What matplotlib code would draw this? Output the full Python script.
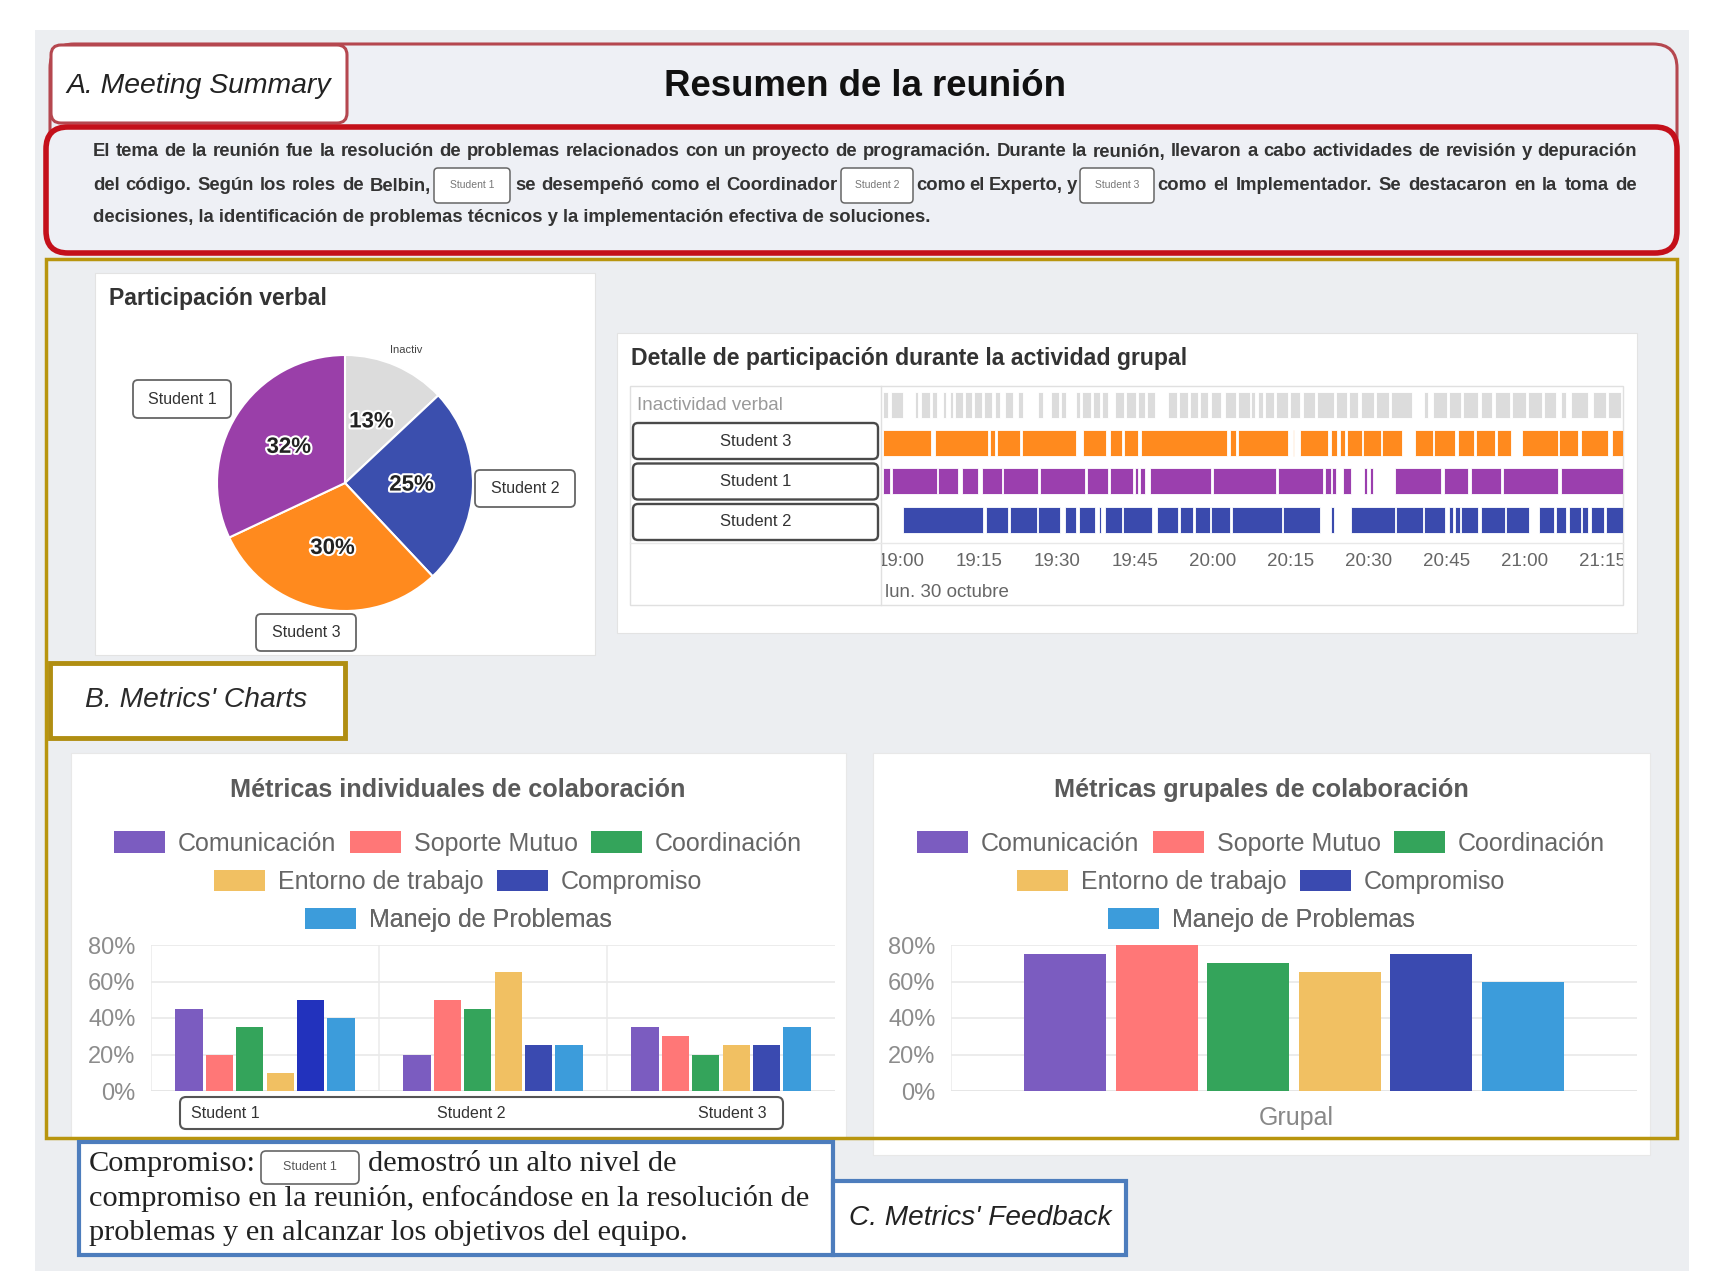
import numpy as np
import matplotlib.pyplot as plt
import matplotlib.patheffects as pe
from matplotlib.patches import FancyBboxPatch, Patch

plt.rcParams['font.family'] = ['Liberation Sans', 'DejaVu Sans']

W, H = 1711, 1271

# ---------------- data ----------------
pie_names = ['Inactividad verbal', 'Student 2', 'Student 3', 'Student 1']
pie_values = [13, 25, 30, 32]
pie_colors = ['#dcdcdc', '#3b4fae', '#ff8a1e', '#9a3fa9']

metrics = ['Comunicación', 'Soporte Mutuo', 'Coordinación',
           'Entorno de trabajo', 'Compromiso', 'Manejo de Problemas']
metric_colors = ['#7b5cc0', '#ff7777', '#34a45b', '#f1c062', '#3a4ab0', '#3c9cdb']
students = ['Student 1', 'Student 2', 'Student 3']
comunicacion = [45, 20, 35]
soporte = [20, 50, 30]
coordinacion = [35, 45, 20]
entorno = [10, 65, 25]
compromiso = [50, 25, 25]
manejo = [40, 25, 35]
grupal = [75, 80, 70, 65, 75, 60]
pct_ticks = [0, 20, 40, 60, 80]

# timeline, minutes since start of the recording (~19:01)
tl_rows = ['Inactividad verbal', 'Student 3', 'Student 1', 'Student 2']
tl_colors = ['#dcdcdc', '#ff8a1e', '#9b3fae', '#3a4aad']
t_start = 1.3
t_end = 142.6
tick_labels = ['19:00', '19:15', '19:30', '19:45', '20:00', '20:15', '20:30', '20:45', '21:00', '21:15']
inactive = [(0.25, 1.2), (1.7, 4.1), (6.3, 7.0), (7.6, 9.2), (9.6, 10.5), (11.8, 12.4), (13.1, 13.7),
            (14.0, 15.6), (16.0, 17.4), (17.8, 19.2), (19.6, 21.1), (21.7, 22.7), (23.7, 25.3), (26.2, 27.2),
            (30.1, 31.0), (32.6, 34.0), (34.4, 35.5), (37.4, 38.1), (38.4, 40.3), (40.6, 42.0), (42.3, 43.5),
            (44.8, 46.5), (46.9, 48.8), (49.2, 50.7), (51.0, 52.5), (55.1, 56.8), (57.2, 58.9), (59.2, 60.8),
            (61.2, 62.7), (63.4, 65.3), (66.0, 68.2), (68.6, 70.8), (71.1, 71.7), (72.4, 73.3), (73.7, 75.5),
            (75.9, 78.2), (78.6, 80.4), (81.0, 83.4), (83.8, 86.9), (87.3, 89.5), (89.9, 91.6), (92.2, 94.6),
            (95.0, 97.6), (98.0, 101.9), (104.4, 105.1), (106.1, 108.7), (109.1, 111.5), (111.9, 114.7),
            (115.3, 117.3), (118.0, 120.8), (121.2, 124.0), (124.4, 127.0), (127.4, 129.7), (130.7, 131.7),
            (132.6, 135.8), (136.8, 139.4), (139.8, 142.3)]
student3 = [(0.25, 9.4), (10.2, 20.4), (20.8, 21.7), (22.2, 26.5), (26.9, 37.4), (38.7, 43.2), (43.8, 46.1),
            (46.5, 49.2), (49.9, 66.3), (66.9, 68.2), (68.5, 78.1), (79.0, 79.3), (80.4, 85.8), (86.4, 87.5),
            (88.1, 89.1), (89.4, 92.3), (92.6, 96.0), (96.3, 100.0), (102.5, 106.0), (106.3, 110.2),
            (110.8, 114.0), (114.3, 118.0), (118.3, 121.1), (123.1, 130.0), (130.3, 134.0), (134.6, 139.8),
            (140.4, 142.6)]
student1 = [(0.25, 1.54), (1.87, 10.5), (10.8, 14.7), (15.3, 18.5), (19.2, 23.0), (23.3, 30.1), (30.4, 39.0),
            (39.4, 43.5), (43.8, 48.3), (48.7, 49.3), (49.6, 50.6), (51.5, 63.4), (63.7, 75.9), (76.2, 84.9),
            (85.2, 86.4), (86.6, 87.3), (88.7, 90.2), (92.8, 93.4), (93.9, 94.5), (98.7, 107.6), (108.1, 112.7),
            (113.3, 119.2), (119.6, 130.1), (130.6, 142.6)]
student2 = [(4.1, 19.5), (20.1, 24.3), (24.6, 29.8), (30.1, 34.2), (35.3, 37.4), (37.9, 41.0), (41.7, 42.2),
            (42.9, 46.1), (46.4, 51.9), (53.0, 57.0), (57.3, 59.9), (60.2, 63.1), (63.4, 66.9), (67.3, 76.9),
            (77.2, 84.2), (86.4, 87.0), (90.3, 98.7), (99.0, 104.1), (104.4, 108.3), (109.2, 109.9),
            (110.2, 111.2), (111.5, 114.7), (115.3, 119.8), (120.1, 124.6), (126.5, 129.4), (129.7, 131.6),
            (132.3, 134.5), (134.8, 135.8), (136.5, 139.0), (139.4, 142.6)]

summary_1 = ('El tema de la reunión fue la resolución de problemas relacionados con un proyecto de '
             'programación. Durante la reunión, llevaron a cabo actividades de revisión y depuración')
summary_2 = ['del código. Según los roles de Belbin,', 'se desempeñó como el Coordinador',
             'como el Experto, y', 'como el Implementador. Se destacaron en la toma de']
summary_3 = 'decisiones, la identificación de problemas técnicos y la implementación efectiva de soluciones.'

# ---------------- canvas ----------------
fig = plt.figure(figsize=(W / 100, H / 100), dpi=100)
fig.patch.set_facecolor('white')
bg = fig.add_axes([0, 0, 1, 1])
bg.set_xlim(0, W)
bg.set_ylim(H, 0)
bg.axis('off')
R = fig.canvas.get_renderer()


def rect(x0, y0, x1, y1):
    return [x0 / W, 1 - y1 / H, (x1 - x0) / W, (y1 - y0) / H]


def box(x0, y0, x1, y1, fc='none', ec='none', lw=1, r=0, z=1):
    style = 'round,pad=0,rounding_size=%g' % r if r else 'square,pad=0'
    bg.add_patch(FancyBboxPatch((x0, y0), x1 - x0, y1 - y0, boxstyle=style,
                                fc=fc, ec=ec, lw=lw, zorder=z))


def put(x, y, s, width=None, **kw):
    kw.setdefault('va', 'center')
    t = bg.text(x, y, s, **kw)
    if width:
        w = t.get_window_extent(renderer=R).width
        t.set_fontsize(t.get_fontsize() * width / w)
    return t


def justify(x0, x1, y, s, **kw):
    words = s.split(' ')
    ts = [bg.text(0, y, w, va='center', **kw) for w in words]
    ws = [t.get_window_extent(renderer=R).width for t in ts]
    gap = (x1 - x0 - sum(ws)) / max(len(words) - 1, 1)
    x = x0
    for t, w in zip(ts, ws):
        t.set_x(x)
        x += w + gap


def name_box(x0, y0, x1, y1, label, fs, ec='#555555', lw=1.3, r=5, color='#333333', z=5):
    box(x0, y0, x1, y1, fc='white', ec=ec, lw=lw, r=r, z=z)
    bg.text((x0 + x1) / 2, (y0 + y1) / 2, label, ha='center', va='center',
            fontsize=fs, color=color, zorder=z + 1)


# page background
box(35, 30, 1689, H, fc='#eceef1', z=0)

# ---------------- A. meeting summary ----------------
box(50, 44, 1677, 252, fc='#eef0f5', ec='#b5474f', lw=2.2, r=24, z=2)
box(51, 45, 347, 123, fc='white', ec='#b5474f', lw=2.2, r=10, z=3)
box(46, 127, 1677, 253, fc='#eef0f5', ec='#c4101a', lw=4, r=22, z=3)
put(199, 86, 'A. Meeting Summary', width=265, style='italic', color='#222222', ha='center', zorder=4)
put(865, 86, 'Resumen de la reunión', width=404, weight='bold', color='#111111', ha='center', zorder=4)

t3 = put(93, 217, summary_3, width=840, weight='bold', color='#333333', zorder=4)
fs_sum = t3.get_fontsize()
skw = dict(fontsize=fs_sum, weight='bold', color='#333333', zorder=4)
justify(93, 1637, 152, summary_1, **skw)
for (a, b), s in zip([(93, 431), (515, 838), (916, 1077), (1157, 1637)], summary_2):
    justify(a, b, 186, s, **skw)
for (a, b), s in zip([(434, 510), (841, 913), (1080, 1154)], students):
    name_box(a, 168, b, 203, s, 7.5, ec='#666666', lw=1.1, r=4, color='#777777')

# ---------------- B. metrics charts ----------------
# cards
box(95, 273, 595, 655, fc='white', ec='#e3e3e3', lw=0.8, z=1)
box(617, 333, 1637, 633, fc='white', ec='#e3e3e3', lw=0.8, z=1)
box(71, 753, 846, 1138, fc='white', ec='#e8e8e8', lw=0.8, z=1)
box(873, 753, 1650, 1155, fc='white', ec='#e8e8e8', lw=0.8, z=1)
box(46, 259, 1677, 1138, ec='#b8950e', lw=2.5, z=3)
box(50, 663, 345, 738, fc='white', ec='#b08e12', lw=3.5, z=4)
put(196, 700, "B. Metrics' Charts", width=222, style='italic', color='#2a2a2a', ha='center', zorder=5)

# --- pie
put(109, 298, 'Participación verbal', width=218, weight='bold', color='#333333', zorder=5)
ax_pie = fig.add_axes(rect(345 - 128, 483 - 128, 345 + 128, 483 + 128))
wedges, _, autotexts = ax_pie.pie(pie_values, colors=pie_colors, startangle=90, counterclock=False,
                                  autopct=lambda p: '%.0f%%' % p, pctdistance=0.52,
                                  wedgeprops=dict(edgecolor='white', linewidth=1.5))
for t in autotexts:
    t.set_fontsize(16)
    t.set_fontweight('bold')
    t.set_color('#222222')
    t.set_path_effects([pe.withStroke(linewidth=3, foreground='white')])
ax_pie.set_xlim(-1, 1)
ax_pie.set_ylim(-1, 1)
ax_pie.set_aspect('equal')
ax_pie.axis('off')
put(406, 350, 'Inactiv', fontsize=8, color='#444444', ha='center', zorder=5)
name_box(133, 380, 231, 418, 'Student 1', 11.5, ec='#666666')
name_box(475, 470, 575, 507, 'Student 2', 11.5, ec='#666666')
name_box(256, 614, 356, 651, 'Student 3', 11.5, ec='#666666')

# --- timeline
put(631, 358, 'Detalle de participación durante la actividad grupal', width=557,
    weight='bold', color='#333333', zorder=5)
box(630, 386, 1623, 605, ec='#e0e0e0', lw=1, z=2)
bg.plot([881, 881], [386, 605], color='#e0e0e0', lw=1, zorder=2)
bg.plot([630, 1623], [543, 543], color='#e8e8e8', lw=1, zorder=2)
put(637, 405, tl_rows[0], fontsize=13.5, color='#9a9a9a', zorder=5)
for cy, s in zip([441, 481.5, 522], tl_rows[1:]):
    name_box(633, cy - 18, 878, cy + 18, s, 12, ec='#4a4a4a', lw=1.7, r=5)

ax_tl = fig.add_axes(rect(882, 386, 1623, 605))
for i, segs in enumerate([inactive, student3, student1, student2]):
    ax_tl.broken_barh([(a, b - a) for a, b in segs], (i - 0.34, 0.68),
                      facecolors=tl_colors[i], edgecolor='white', linewidth=0.6)
for k, lab in enumerate(tick_labels):
    t = ax_tl.text(15 * k - t_start + 0.4, 4.11, lab, ha='left', va='center',
                   fontsize=13.5, color='#666666', clip_on=True)
    t.set_clip_box(ax_tl.bbox)
ax_tl.text(0.6, 4.9, 'lun. 30 octubre', ha='left', va='center', fontsize=13.5, color='#666666')
ax_tl.set_xlim(0, t_end)
ax_tl.set_ylim(5.24, -0.5)
ax_tl.set_xticks([])
ax_tl.set_yticks([])
for sp in ax_tl.spines.values():
    sp.set_visible(False)
ax_tl.patch.set_alpha(0)

# --- bar charts
step = 0.8 / 6
bw = 0.9 * step
handles = [Patch(facecolor=c) for c in metric_colors]


def style_bar_axes(ax):
    ax.set_ylim(0, 80)
    ax.set_yticks(pct_ticks)
    ax.set_yticklabels(['%d%%' % v for v in pct_ticks])
    ax.tick_params(axis='y', length=0, pad=11, labelsize=17, labelcolor='#8c8c8c')
    ax.set_xticks([])
    for sp in ax.spines.values():
        sp.set_visible(False)
    ax.set_axisbelow(True)
    ax.yaxis.grid(True, color='#e9e9e9', lw=1.2)
    ax.axhline(0, color='#d5d5d5', lw=2, zorder=0.5)
    ax.patch.set_alpha(0)


def legend_rows(ax, cx):
    for (a, b), y in zip([(0, 3), (3, 5), (5, 6)], [843.5, 881.7, 920]):
        leg = ax.legend(handles[a:b], metrics[a:b], ncol=b - a, loc='center',
                        bbox_to_anchor=(cx, y), bbox_transform=bg.transData, frameon=False,
                        fontsize=18, handlelength=2.04, handleheight=0.92,
                        handletextpad=0.52, columnspacing=0.52, labelcolor='#666666')
        ax.add_artist(leg)


put(458, 790, 'Métricas individuales de colaboración', width=456, weight='bold',
    color='#5a5a5a', ha='center', zorder=5)
ax_l = fig.add_axes(rect(151, 945, 835, 1091))
x = np.arange(len(students))
series = [comunicacion, soporte, coordinacion, entorno, compromiso, manejo]
bars = []
for k, (vals, c) in enumerate(zip(series, metric_colors)):
    bars.append(ax_l.bar(x + (k - 2.5) * step, vals, bw, color=c))
bars[4][0].set_facecolor('#2232bd')  # highlighted in the feedback
ax_l.set_xlim(-0.5, 2.5)
for xv in [-0.5, 0.5, 1.5]:
    ax_l.axvline(xv, color='#ececec', lw=1.2, zorder=0)
style_bar_axes(ax_l)
legend_rows(ax_l, 458)
box(180, 1097, 783, 1129, fc='white', ec='#555555', lw=1.5, r=6, z=5)
for cx, s in zip([225, 471, 732], students):
    put(cx, 1113, s, fontsize=11.5, color='#333333', ha='center', zorder=6)

put(1261, 790, 'Métricas grupales de colaboración', width=415, weight='bold',
    color='#5a5a5a', ha='center', zorder=5)
ax_r = fig.add_axes(rect(951, 945, 1637, 1091))
for k, (v, c) in enumerate(zip(grupal, metric_colors)):
    ax_r.bar((k - 2.5) * step, v, bw, color=c)
ax_r.set_xlim(-0.5, 0.5)
ax_r.axvline(-0.5, color='#ececec', lw=1.2, zorder=0)
style_bar_axes(ax_r)
legend_rows(ax_r, 1261)
put(1296, 1118, 'Grupal', fontsize=18, color='#888888', ha='center', zorder=5)

# ---------------- C. metrics feedback ----------------
box(79, 1142, 833, 1255, fc='white', ec='#4d7dbd', lw=3, z=4)
box(833, 1181, 1126, 1255, fc='white', ec='#4d7dbd', lw=3, z=4)
put(980, 1218, "C. Metrics' Feedback", width=263, style='italic', color='#222222', ha='center', zorder=5)
fb = put(89, 1199, 'compromiso en la reunión, enfocándose en la resolución de', width=721,
         family='Liberation Serif', color='#222222', zorder=5)
fkw = dict(fontsize=fb.get_fontsize(), family='Liberation Serif', color='#222222', zorder=5)
put(89, 1164, 'Compromiso:', **fkw)
name_box(261, 1151, 359, 1184, 'Student 1', 9, ec='#666666', lw=1.2, r=5, color='#555555')
put(368, 1164, 'demostró un alto nivel de', **fkw)
put(89, 1233, 'problemas y en alcanzar los objetivos del equipo.', **fkw)

fig.savefig('out.png', dpi=100)
